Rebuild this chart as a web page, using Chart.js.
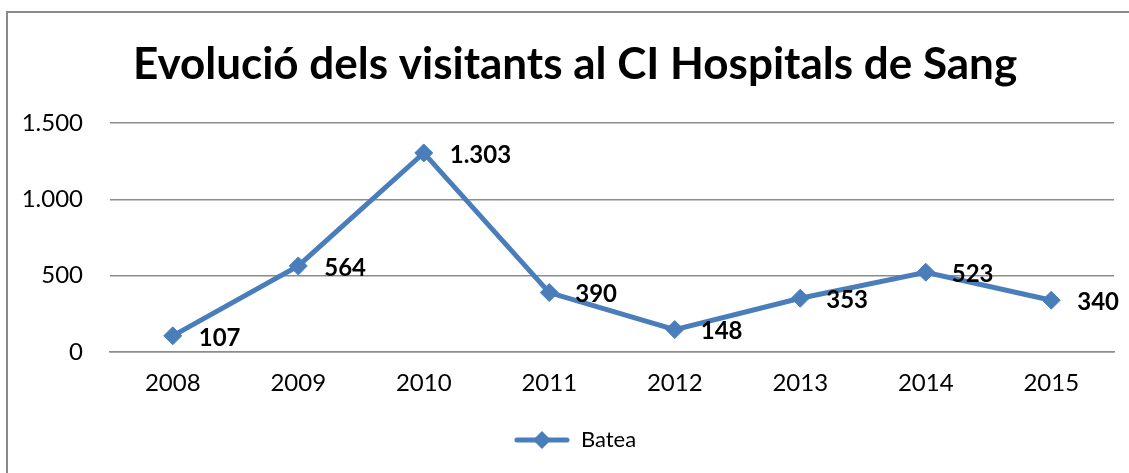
<!DOCTYPE html>
<html>
<head>
<meta charset="utf-8">
<script src="https://cdn.jsdelivr.net/npm/chart.js@4"></script>
<style>
  html, body { margin: 0; padding: 0; background: #fff; overflow: hidden; }
  #wrap { position: relative; width: 1129px; height: 473px; }
  #marc { position: absolute; left: 6px; top: 11px; width: 1140px; height: 480px; border: 2px solid #8a8a8a; box-sizing: border-box; }
  canvas { position: absolute; left: 0; top: 0; }
</style>
</head>
<body>
<div id="wrap">
  <div id="marc"></div>
  <canvas id="grafic" width="1129" height="473"></canvas>
</div>
<script>
const anys = ["2008", "2009", "2010", "2011", "2012", "2013", "2014", "2015"];
const visitants = [107, 564, 1303, 390, 148, 353, 523, 340];
const titol = "Evolució dels visitants al CI Hospitals de Sang";
const serie = "Batea";

const blau = "#4A7EBB";
const lletra = "Lato, 'Open Sans', sans-serif";

function formatNum(v) {
  return v.toLocaleString("de-DE");
}

// mostra de la llegenda: línia amb rombe
const mostra = document.createElement("canvas");
mostra.width = 56; mostra.height = 20;
(function () {
  const c = mostra.getContext("2d");
  c.strokeStyle = blau; c.lineWidth = 5; c.lineCap = "round";
  c.beginPath(); c.moveTo(3, 10); c.lineTo(53, 10); c.stroke();
  c.fillStyle = blau;
  c.beginPath(); c.moveTo(28, 1); c.lineTo(37, 10); c.lineTo(28, 19); c.lineTo(19, 10); c.closePath(); c.fill();
})();

const etiquetes = {
  id: "etiquetes",
  afterLayout(chart) {
    // el títol i la llegenda van una mica a la dreta, com a l'original
    [chart.titleBlock, chart.legend].forEach(b => {
      if (b) { b.left += 18; b.right += 18; }
    });
  },
  afterDatasetsDraw(chart) {
    const ctx = chart.ctx;
    const meta = chart.getDatasetMeta(0);
    ctx.save();
    ctx.font = "bold 24px " + lletra;
    ctx.fillStyle = "#000";
    ctx.textAlign = "left";
    ctx.textBaseline = "middle";
    meta.data.forEach((p, i) => {
      ctx.fillText(formatNum(chart.data.datasets[0].data[i]), p.x + 26, p.y + 2);
    });
    ctx.restore();
  }
};

new Chart(document.getElementById("grafic"), {
  type: "line",
  data: {
    labels: anys,
    datasets: [{
      label: serie,
      data: visitants,
      borderColor: blau,
      backgroundColor: blau,
      borderWidth: 5,
      pointStyle: "rectRot",
      pointRadius: 9,
      pointBackgroundColor: blau,
      pointBorderColor: blau,
      pointBorderWidth: 1,
      tension: 0
    }]
  },
  options: {
    responsive: false,
    animation: false,
    events: [],
    layout: { padding: { left: 0, right: 15, top: 0, bottom: 12 } },
    plugins: {
      title: {
        display: true,
        text: titol,
        color: "#000",
        font: { family: lletra, size: 44, weight: "bold" },
        padding: { top: 38, bottom: 32 }
      },
      legend: {
        position: "bottom",
        labels: {
          color: "#000",
          font: { family: lletra, size: 22 },
          usePointStyle: true,
          pointStyleWidth: 56,
          padding: 14,
          generateLabels: () => [{
            text: serie,
            pointStyle: mostra,
            fillStyle: blau,
            strokeStyle: blau,
            lineWidth: 0,
            datasetIndex: 0
          }]
        }
      },
      tooltip: { enabled: false }
    },
    scales: {
      x: {
        offset: true,
        grid: { display: false, drawTicks: false },
        border: { display: true, color: "#8c8c8c", width: 1.5 },
        ticks: { color: "#000", font: { family: lletra, size: 24 }, padding: 17, maxRotation: 0 }
      },
      y: {
        min: 0,
        max: 1500,
        afterFit: (s) => { s.width = 110; },
        grid: { color: "#8c8c8c", lineWidth: 1.5, drawTicks: false },
        border: { display: false },
        ticks: {
          stepSize: 500,
          color: "#000",
          font: { family: lletra, size: 24 },
          padding: 27,
          callback: (v) => formatNum(v)
        }
      }
    }
  },
  plugins: [etiquetes]
});
</script>
</body>
</html>
